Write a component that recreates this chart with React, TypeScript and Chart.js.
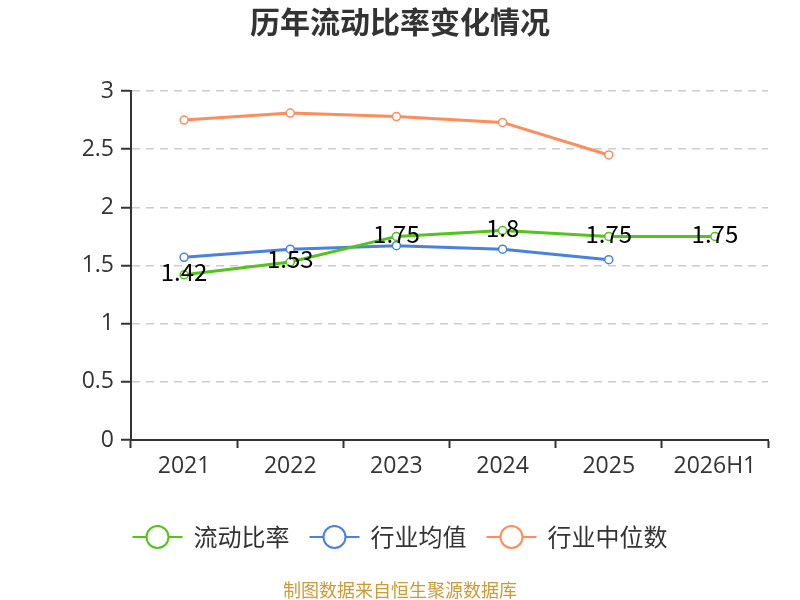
import React, { useEffect, useRef } from "react";
import { Chart, registerables } from "chart.js";

Chart.register(...registerables);

const categories = ["2021", "2022", "2023", "2024", "2025", "2026H1"];
const currentRatio = [1.42, 1.53, 1.75, 1.8, 1.75, 1.75];
const industryMean = [1.57, 1.64, 1.67, 1.64, 1.55, null];
const industryMedian = [2.75, 2.81, 2.78, 2.73, 2.45, null];
const seriesNames = ["流动比率", "行业均值", "行业中位数"];
const seriesColors = ["#52c41a", "#4b80e0", "#ff8c5a"];
const titleText = "历年流动比率变化情况";
const footerText = "制图数据来自恒生聚源数据库";

const FONT = '"Noto Sans CJK SC", "Noto Sans", sans-serif';
const TICK_FONT = '"Open Sans", "Noto Sans CJK SC", sans-serif';

const decorPlugin = {
  id: "decor",
  afterDatasetsDraw(chart: any) {
    const ctx = chart.ctx;
    const meta = chart.getDatasetMeta(0);
    ctx.save();
    ctx.font = `24px ${FONT}`;
    ctx.fillStyle = "#000";
    ctx.textAlign = "center";
    ctx.textBaseline = "middle";
    meta.data.forEach((pt: any, i: number) => {
      const v = currentRatio[i];
      if (v == null) return;
      ctx.fillText(String(v), pt.x, pt.y - 3);
    });
    ctx.restore();
  },
  afterDraw(chart: any) {
    const ctx = chart.ctx;
    const W = chart.width;
    ctx.save();
    ctx.font = `bold 30px ${FONT}`;
    ctx.fillStyle = "#333";
    ctx.textAlign = "center";
    ctx.textBaseline = "middle";
    ctx.fillText(titleText, W / 2, 22);

    ctx.font = `24px ${FONT}`;
    const iconW = 50;
    const gapIcon = 11;
    const gapItem = 20;
    const widths = seriesNames.map((n) => ctx.measureText(n).width);
    const total =
      widths.reduce((a, b) => a + b, 0) +
      seriesNames.length * (iconW + gapIcon) +
      (seriesNames.length - 1) * gapItem;
    let x = W / 2 - total / 2;
    const ly = 537;
    seriesNames.forEach((name, i) => {
      const c = seriesColors[i];
      ctx.strokeStyle = c;
      ctx.lineWidth = 2;
      ctx.beginPath();
      ctx.moveTo(x, ly);
      ctx.lineTo(x + iconW, ly);
      ctx.stroke();
      ctx.beginPath();
      ctx.arc(x + iconW / 2, ly, 11, 0, Math.PI * 2);
      ctx.fillStyle = "#fff";
      ctx.fill();
      ctx.stroke();
      ctx.fillStyle = "#333";
      ctx.textAlign = "left";
      ctx.textBaseline = "middle";
      ctx.fillText(name, x + iconW + gapIcon, ly);
      x += iconW + gapIcon + widths[i] + gapItem;
    });

    ctx.font = `18px ${FONT}`;
    ctx.fillStyle = "#cc9a35";
    ctx.textAlign = "center";
    ctx.fillText(footerText, W / 2, 590);
    ctx.restore();
  },
};

function makeDataset(label: string, data: (number | null)[], color: string) {
  return {
    label,
    data,
    borderColor: color,
    backgroundColor: "#fff",
    borderWidth: 3,
    pointRadius: 4,
    pointHoverRadius: 4,
    pointBorderWidth: 1.5,
    pointBackgroundColor: "#fff",
    pointBorderColor: color,
    tension: 0,
    spanGaps: false,
  };
}

export default function App() {
  const ref = useRef<HTMLCanvasElement | null>(null);
  useEffect(() => {
    if (!ref.current) return;
    const chart = new Chart(ref.current, {
      type: "line",
      data: {
        labels: categories,
        datasets: [
          makeDataset(seriesNames[0], currentRatio, seriesColors[0]),
          makeDataset(seriesNames[1], industryMean, seriesColors[1]),
          makeDataset(seriesNames[2], industryMedian, seriesColors[2]),
        ],
      },
      options: {
        animation: false,
        responsive: false,
        devicePixelRatio: 1,
        layout: { padding: { top: 91, right: 32, bottom: 110, left: 0 } },
        plugins: {
          legend: { display: false },
          title: { display: false },
          tooltip: { enabled: false },
        },
        scales: {
          x: {
            offset: true,
            grid: {
              display: true,
              drawOnChartArea: false,
              offset: true,
              tickLength: 8,
              tickColor: "#333",
              tickWidth: 2,
            },
            border: { display: true, color: "#333", width: 2 },
            ticks: {
              color: "#333",
              font: { family: TICK_FONT, size: 23 },
              padding: 5,
            },
            afterFit(scale: any) {
              scale.height = 50;
            },
          },
          y: {
            min: 0,
            max: 3,
            ticks: {
              stepSize: 0.5,
              color: "#333",
              font: { family: TICK_FONT, size: 23 },
              padding: 7,
              callback: (v: any) => String(Number(v)),
            },
            grid: {
              color: "#cccccc",
              lineWidth: 1.5,
              tickLength: 10,
              tickColor: "#333",
              tickWidth: 2,
              tickBorderDash: [],
            },
            border: { display: true, color: "#333", width: 2, dash: [8, 6] },
            afterFit(scale: any) {
              scale.width = 131;
            },
          },
        },
      },
      plugins: [decorPlugin],
    });
    return () => chart.destroy();
  }, []);
  return (
    <div style={{ position: "absolute", left: 0, top: 0, width: 800, height: 600 }}>
      <canvas ref={ref} width={800} height={600} style={{ width: 800, height: 600 }} />
    </div>
  );
}
